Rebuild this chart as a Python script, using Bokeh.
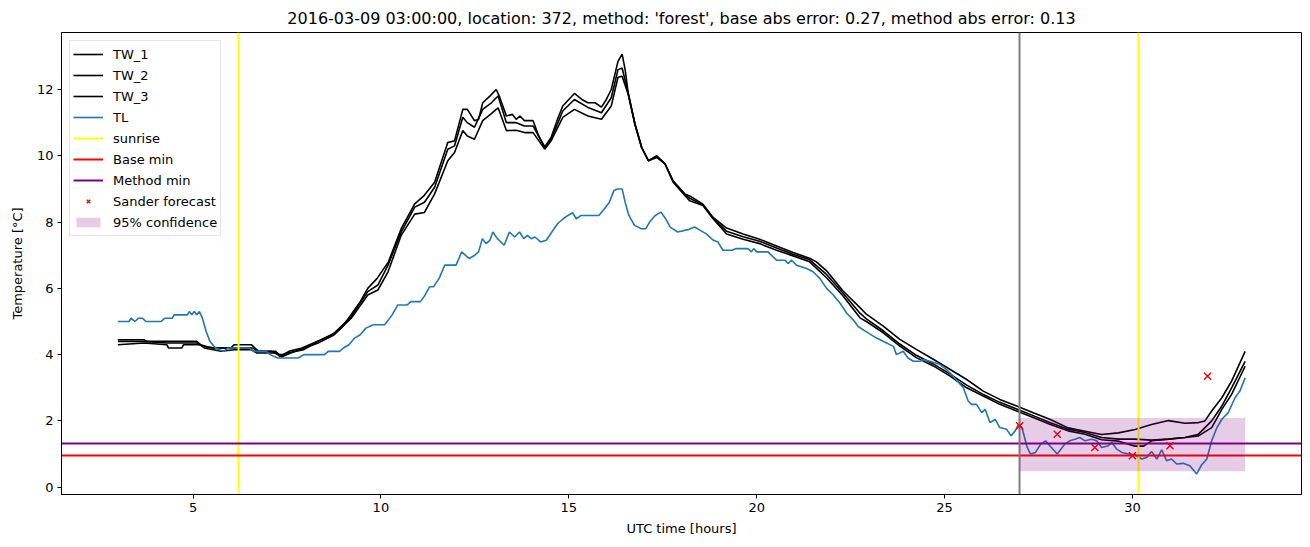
from bokeh.plotting import figure
from bokeh.models import Range1d, Legend, LegendItem, FixedTicker
from bokeh.embed import file_html
from bokeh.resources import INLINE

# ---------------- data ----------------
TITLE = "2016-03-09 03:00:00, location: 372, method: 'forest', base abs error: 0.27, method abs error: 0.13"

TL_READINGS = [
    (3.0, 5.0), (3.3, 5.0), (3.35, 5.1), (3.45, 5.0), (3.55, 5.1), (3.65, 5.1), (3.75, 5.0), (4.15, 5.0),
    (4.25, 5.1), (4.45, 5.1), (4.5, 5.2), (4.85, 5.2), (4.9, 5.3), (4.97, 5.2), (5.03, 5.3), (5.1, 5.2),
    (5.17, 5.3), (5.25, 5.1), (5.35, 4.7), (5.45, 4.4), (5.6, 4.2), (5.8, 4.1), (5.95, 4.2), (6.5, 4.2),
    (6.6, 4.1), (6.95, 4.1), (7.05, 4.0), (7.25, 3.9), (7.8, 3.9), (7.95, 4.0), (8.5, 4.0), (8.6, 4.1),
    (8.9, 4.1), (9.0, 4.2), (9.15, 4.3), (9.3, 4.5), (9.45, 4.6), (9.6, 4.8), (9.8, 4.9), (10.1, 4.9),
    (10.3, 5.2), (10.45, 5.5), (10.7, 5.5), (10.8, 5.6), (11.05, 5.6), (11.15, 5.75), (11.3, 6.05),
    (11.4, 6.05), (11.55, 6.3), (11.7, 6.7), (12.0, 6.7), (12.15, 7.1), (12.35, 6.9), (12.5, 7.0),
    (12.6, 7.1), (12.7, 7.5), (12.8, 7.35), (12.9, 7.45), (12.98, 7.7), (13.1, 7.5), (13.28, 7.3),
    (13.42, 7.7), (13.56, 7.55), (13.69, 7.7), (13.8, 7.5), (13.9, 7.6), (14.0, 7.5), (14.1, 7.55),
    (14.25, 7.4), (14.4, 7.45), (14.55, 7.7), (14.7, 7.95), (14.85, 8.1), (14.98, 8.2), (15.1, 8.28),
    (15.2, 8.1), (15.33, 8.2), (15.8, 8.2), (15.95, 8.4), (16.08, 8.6), (16.2, 8.95), (16.3, 9.0),
    (16.42, 9.0), (16.5, 8.6), (16.6, 8.2), (16.75, 7.9), (16.93, 7.8), (17.05, 7.8), (17.15, 8.0),
    (17.3, 8.2), (17.45, 8.3), (17.58, 8.1), (17.7, 7.85), (17.9, 7.7), (18.2, 7.78), (18.35, 7.85),
    (18.5, 7.75), (18.65, 7.65), (18.85, 7.45), (18.97, 7.4), (19.1, 7.15), (19.35, 7.15), (19.45, 7.2),
    (19.77, 7.2), (19.86, 7.1), (19.92, 7.2), (20.0, 7.1), (20.3, 7.1), (20.53, 6.85), (20.75, 6.85),
    (20.84, 6.75), (20.93, 6.85), (21.06, 6.7), (21.33, 6.6), (21.5, 6.5), (21.68, 6.3), (21.86, 6.0),
    (22.04, 5.8), (22.22, 5.55), (22.4, 5.25), (22.57, 5.05), (22.7, 4.85), (22.9, 4.7), (23.19, 4.5),
    (23.46, 4.35), (23.64, 4.25), (23.72, 4.0), (23.9, 4.1), (24.03, 3.9), (24.17, 3.8), (24.35, 3.8),
    (24.44, 3.85), (24.61, 3.8), (24.88, 3.7), (25.05, 3.55), (25.23, 3.35), (25.5, 3.0), (25.63, 2.6),
    (25.72, 2.5), (25.85, 2.5), (25.99, 2.25), (26.08, 2.35), (26.21, 1.95), (26.35, 2.05), (26.47, 1.8),
    (26.65, 1.75), (26.77, 1.55), (26.88, 1.7), (26.97, 1.9), (27.06, 1.8), (27.2, 1.2), (27.29, 1.0),
    (27.42, 1.05), (27.56, 1.3), (27.69, 1.4), (27.8, 1.25), (28.0, 1.0), (28.2, 1.3), (28.33, 1.4),
    (28.47, 1.45), (28.6, 1.5), (28.74, 1.4), (28.91, 1.45), (29.05, 1.4), (29.18, 1.2), (29.36, 1.25),
    (29.45, 1.35), (29.58, 1.15), (29.72, 1.05), (29.9, 1.0), (30.07, 0.98), (30.25, 0.85), (30.38, 0.9),
    (30.51, 1.08), (30.65, 0.85), (30.78, 1.13), (30.91, 0.8), (31.04, 0.85), (31.18, 0.7), (31.35, 0.72),
    (31.53, 0.65), (31.71, 0.4), (31.84, 0.67), (31.98, 0.85), (32.11, 1.4), (32.25, 1.8), (32.38, 2.05),
    (32.55, 2.25), (32.73, 2.7), (32.86, 2.9), (33.0, 3.3),
]

TW1_READINGS = [
    (3.0, 4.45), (3.7, 4.45), (3.75, 4.4), (5.1, 4.4), (5.2, 4.3), (5.5, 4.2), (6.0, 4.2), (6.1, 4.3),
    (6.55, 4.3), (6.65, 4.2), (6.75, 4.1), (7.1, 4.1), (7.25, 4.0), (7.4, 4.0), (7.55, 4.1), (7.9, 4.2),
    (8.3, 4.4), (8.7, 4.6), (8.95, 4.8), (9.2, 5.2), (9.45, 5.6), (9.65, 6.0), (9.9, 6.3), (10.2, 6.8),
    (10.54, 7.8), (10.9, 8.55), (11.15, 8.8), (11.43, 9.2), (11.78, 10.4), (11.96, 10.45), (12.18, 11.4),
    (12.3, 11.4), (12.49, 11.06), (12.6, 11.1), (12.71, 11.6), (12.9, 11.8), (13.07, 12.0), (13.15, 11.8),
    (13.34, 11.2), (13.5, 11.25), (13.6, 11.1), (13.7, 11.2), (13.82, 11.06), (14.05, 11.06), (14.2, 10.6),
    (14.36, 10.27), (14.53, 10.55), (14.7, 11.1), (14.84, 11.5), (15.15, 11.88), (15.35, 11.7),
    (15.51, 11.6), (15.7, 11.6), (15.87, 11.47), (16.0, 11.7), (16.13, 12.0), (16.31, 12.85),
    (16.42, 13.07), (16.5, 12.6), (16.58, 11.9), (16.76, 10.96), (16.94, 10.25), (17.12, 9.85),
    (17.34, 10.0), (17.56, 9.76), (17.78, 9.24), (18.09, 8.85), (18.22, 8.79), (18.57, 8.54),
    (18.84, 8.14), (19.2, 7.82), (19.64, 7.64), (20.08, 7.48), (20.53, 7.28), (20.97, 7.08),
    (21.41, 6.91), (21.59, 6.8), (21.86, 6.53), (22.3, 5.92), (22.75, 5.42), (22.92, 5.22), (23.37, 4.86),
    (23.81, 4.46), (24.25, 4.16), (24.7, 3.86), (25.14, 3.56), (25.59, 3.25), (26.03, 2.9), (26.47, 2.65),
    (26.92, 2.45), (27.36, 2.25), (27.8, 2.05), (28.29, 1.79), (28.74, 1.69), (29.18, 1.59), (29.63, 1.64),
    (30.07, 1.74), (30.51, 1.89), (30.96, 2.01), (31.4, 1.93), (31.76, 1.95), (31.93, 2.0), (32.11, 2.3),
    (32.38, 2.7), (32.64, 3.2), (33.0, 4.1),
]

TW2_READINGS = [
    (3.0, 4.4), (3.7, 4.4), (4.3, 4.35), (5.1, 4.35), (5.25, 4.25), (5.6, 4.2), (6.6, 4.2), (6.7, 4.1),
    (7.2, 4.1), (7.3, 3.95), (7.5, 4.05), (7.95, 4.15), (8.33, 4.4), (8.76, 4.65), (9.21, 5.15),
    (9.65, 5.9), (9.92, 6.1), (10.19, 6.7), (10.54, 7.7), (10.9, 8.45), (11.16, 8.6), (11.43, 9.05),
    (11.78, 10.2), (11.96, 10.3), (12.18, 11.16), (12.3, 11.0), (12.49, 10.86), (12.71, 11.4),
    (12.94, 11.6), (13.07, 11.75), (13.12, 11.8), (13.34, 11.0), (13.6, 11.0), (13.82, 10.9),
    (14.05, 10.9), (14.36, 10.25), (14.53, 10.5), (14.84, 11.35), (15.15, 11.7), (15.51, 11.46),
    (15.87, 11.3), (16.13, 11.75), (16.31, 12.6), (16.42, 12.65), (16.58, 11.9), (16.76, 10.96),
    (16.94, 10.25), (17.12, 9.85), (17.34, 9.98), (17.56, 9.76), (17.78, 9.22), (18.09, 8.82),
    (18.22, 8.72), (18.57, 8.52), (18.84, 8.12), (19.2, 7.72), (19.64, 7.56), (20.08, 7.42),
    (20.53, 7.22), (20.97, 7.03), (21.41, 6.86), (21.86, 6.42), (22.3, 5.85), (22.75, 5.25),
    (22.92, 5.08), (23.37, 4.72), (23.81, 4.32), (24.25, 3.98), (24.7, 3.72), (25.14, 3.42),
    (25.59, 3.08), (26.03, 2.8), (26.47, 2.56), (26.92, 2.36), (27.36, 2.16), (27.8, 1.95),
    (28.29, 1.75), (28.74, 1.65), (29.18, 1.5), (29.63, 1.45), (30.07, 1.45), (30.51, 1.42),
    (30.96, 1.45), (31.4, 1.5), (31.76, 1.6), (32.11, 2.0), (32.38, 2.45), (32.64, 3.0), (33.0, 3.8),
]

TW3_READINGS = [
    (3.0, 4.3), (3.7, 4.35), (4.3, 4.3), (4.35, 4.2), (4.7, 4.2), (4.75, 4.3), (5.2, 4.3), (5.3, 4.2),
    (5.75, 4.1), (6.1, 4.15), (6.55, 4.15), (6.7, 4.05), (7.25, 4.05), (7.35, 3.93), (7.6, 4.05),
    (7.97, 4.2), (8.33, 4.35), (8.76, 4.6), (9.21, 5.1), (9.65, 5.8), (9.92, 5.95), (10.19, 6.5),
    (10.54, 7.6), (10.9, 8.24), (11.16, 8.29), (11.43, 8.85), (11.78, 9.85), (11.96, 10.1),
    (12.18, 10.76), (12.3, 10.6), (12.49, 10.5), (12.71, 11.06), (12.94, 11.27), (13.07, 11.4),
    (13.12, 11.45), (13.34, 10.76), (13.6, 10.77), (13.82, 10.7), (14.05, 10.7), (14.36, 10.2),
    (14.53, 10.45), (14.84, 11.16), (15.15, 11.4), (15.51, 11.2), (15.87, 11.1), (16.13, 11.5),
    (16.31, 12.37), (16.42, 12.4), (16.58, 11.86), (16.76, 10.96), (16.94, 10.25), (17.12, 9.85),
    (17.34, 9.95), (17.56, 9.76), (17.78, 9.2), (18.09, 8.8), (18.22, 8.64), (18.57, 8.5),
    (18.84, 8.1), (19.2, 7.64), (19.64, 7.48), (20.08, 7.35), (20.53, 7.15), (20.97, 6.98),
    (21.41, 6.8), (21.86, 6.32), (22.3, 5.77), (22.75, 5.11), (22.92, 5.0), (23.37, 4.66),
    (23.81, 4.26), (24.25, 3.91), (24.7, 3.66), (25.14, 3.36), (25.59, 3.0), (26.03, 2.75),
    (26.47, 2.5), (26.92, 2.3), (27.36, 2.1), (27.8, 1.9), (28.29, 1.7), (28.74, 1.6), (29.18, 1.43),
    (29.63, 1.39), (30.07, 1.24), (30.3, 1.24), (30.51, 1.4), (30.96, 1.45), (31.4, 1.5),
    (31.76, 1.55), (32.11, 1.8), (32.38, 2.35), (32.64, 2.8), (33.0, 3.65),
]

forecast_hours = [27, 28, 29, 30, 31, 32]
forecast_temps = [1.85, 1.6, 1.2, 0.95, 1.25, 3.35]

sunrise_hours = [6.2, 30.17]
forecast_start_hour = [27.0]
base_min = [0.95]
method_min = [1.33]

conf_start = [27.0]
conf_end = [33.0]
conf_low = [0.48]
conf_high = [2.09]

x_ticks = [5, 10, 15, 20, 25, 30]
y_ticks = [0, 2, 4, 6, 8, 10, 12]

# ---------------- plot ----------------
FONT = "DejaVu Sans"

p = figure(width=1310, height=547, output_backend="svg", toolbar_location=None,
           x_range=Range1d(1.5, 34.5), y_range=Range1d(-0.22, 13.72),
           min_border_left=61, min_border_right=9, min_border_top=32, min_border_bottom=53)
p.background_fill_color = "white"
p.border_fill_color = "white"
p.outline_line_color = "black"
p.outline_line_width = 1
p.xgrid.visible = False
p.ygrid.visible = False

p.title.text = TITLE
p.title.align = "center"
p.title.text_font = FONT
p.title.text_font_size = "16px"
p.title.text_font_style = "normal"
p.title.text_color = "black"

for ax in (p.xaxis[0], p.yaxis[0]):
    ax.axis_line_color = "black"
    ax.major_tick_line_color = "black"
    ax.minor_tick_line_color = None
    ax.major_tick_in = 0
    ax.major_tick_out = 4
    ax.major_label_standoff = 4
    ax.major_label_text_font = FONT
    ax.major_label_text_font_size = "13px"
    ax.major_label_text_color = "black"
    ax.axis_label_text_font = FONT
    ax.axis_label_text_font_size = "13px"
    ax.axis_label_text_font_style = "normal"
    ax.axis_label_text_color = "black"

p.xaxis.ticker = FixedTicker(ticks=x_ticks)
p.yaxis.ticker = FixedTicker(ticks=y_ticks)
p.xaxis.axis_label = "UTC time [hours]"
p.yaxis.axis_label = "Temperature [°C]"
p.xaxis.axis_label_standoff = 6
p.yaxis.axis_label_standoff = 9


def unpack(readings):
    return [t for t, _ in readings], [v for _, v in readings]


items = []
for name, readings in (("TW_1", TW1_READINGS), ("TW_2", TW2_READINGS), ("TW_3", TW3_READINGS)):
    xs, ys = unpack(readings)
    r = p.line(xs, ys, line_color="black", line_width=1.6)
    items.append(LegendItem(label=name, renderers=[r]))

xs, ys = unpack(TL_READINGS)
r_tl = p.line(xs, ys, line_color="#1f77b4", line_width=1.6)
items.append(LegendItem(label="TL", renderers=[r_tl]))

r_sun = p.vspan(x=sunrise_hours, line_color="#ffff00", line_width=2)
items.append(LegendItem(label="sunrise", renderers=[r_sun]))

r_base = p.hspan(y=base_min, line_color="#ff0000", line_width=2)
items.append(LegendItem(label="Base min", renderers=[r_base]))

r_meth = p.hspan(y=method_min, line_color="#800080", line_width=2)
items.append(LegendItem(label="Method min", renderers=[r_meth]))

p.vspan(x=forecast_start_hour, line_color="#808080", line_width=2)

r_fc = p.scatter(forecast_hours, forecast_temps, marker="x", size=10, line_color="#ff0000", line_width=1.4)
items.append(LegendItem(label="Sander forecast", renderers=[r_fc]))

r_conf = p.quad(left=conf_start, right=conf_end, bottom=conf_low, top=conf_high,
                fill_color="#800080", fill_alpha=0.2, line_color=None)
items.append(LegendItem(label="95% confidence", renderers=[r_conf]))

legend = Legend(items=items, location="top_left")
legend.label_text_font = FONT
legend.label_text_font_size = "13px"
legend.label_text_color = "black"
legend.glyph_width = 30
legend.glyph_height = 12
legend.label_height = 20
legend.spacing = 1
legend.padding = 3
legend.margin = 8
legend.label_standoff = 10
legend.border_line_color = "#cccccc"
legend.border_line_width = 1
legend.background_fill_alpha = 0.8
p.add_layout(legend)

open("out.html", "w").write(file_html(p, INLINE))
